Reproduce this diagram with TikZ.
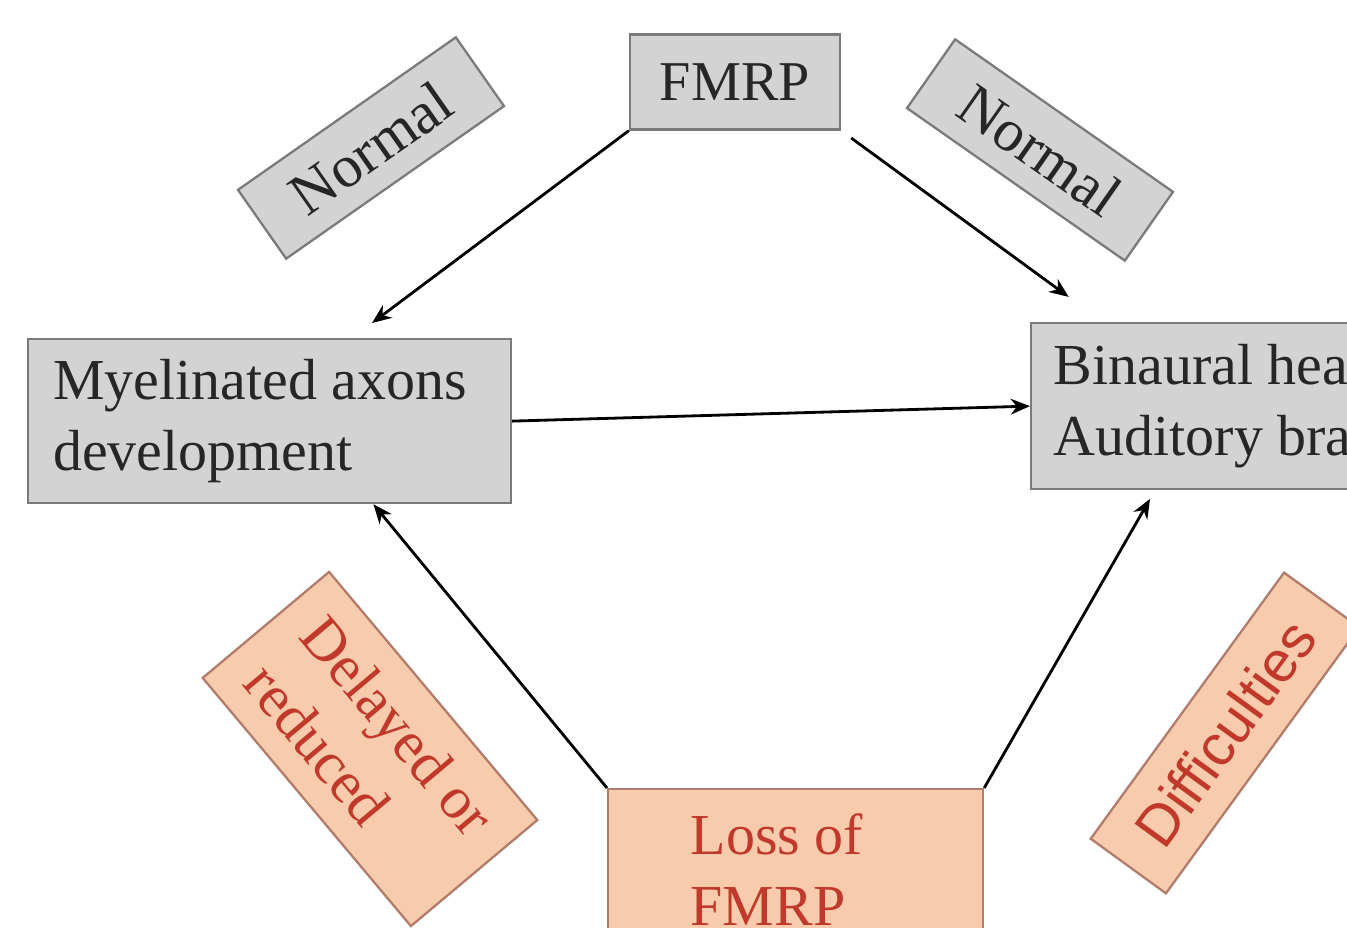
\documentclass[tikz,border=0pt]{standalone}
\usepackage{fontspec}
\setmainfont{Liberation Serif}
\setsansfont{Liberation Sans}
\usetikzlibrary{calc, arrows.meta}

\definecolor{boxgray}{HTML}{D3D3D3}
\definecolor{edgegray}{HTML}{7A7A7A}
\definecolor{peach}{HTML}{F8CBAD}
\definecolor{peachedge}{HTML}{B07C6C}
\definecolor{lossred}{HTML}{C0392B}

\begin{document}
\begin{tikzpicture}[x=0.02cm, y=-0.02cm,
    graybox/.style={draw=edgegray, line width=1.3pt, fill=boxgray, text=black!85},
    peachbox/.style={draw=peachedge, line width=1.3pt, fill=peach, text=lossred},
    boxtext/.style={font=\fontsize{33}{40}\selectfont},
    tagtext/.style={font=\fontsize{34}{42}\selectfont},
    link/.style={line width=1.6pt, -{Stealth[length=11pt, width=9pt]}}]

  % --- Cadre (image coupée à droite et en bas) ---
  \clip (0,0) rectangle (1347,928);

  % --- Boîtes principales ---
  \node[graybox, font=\fontsize{32}{40}\selectfont,
        minimum width=4.2cm, minimum height=1.9cm] (fmrp) at (735,82) {FMRP};

  \node[graybox, boxtext, anchor=north west, text width=8.66cm, align=flush left,
        inner xsep=0.5cm, minimum height=3.28cm] (myel) at (27,338)
    {Myelinated axons\\development};

  \node[graybox, boxtext, anchor=north west, align=flush left,
        inner xsep=0.45cm, minimum height=3.32cm] (bin) at (1030,322)
    {Binaural hearing\\Auditory brainstem};

  \node[peachbox, boxtext, anchor=north west, text width=4.2cm, align=flush left,
        inner xsep=1.65cm, inner ysep=0.5cm] (loss) at (607,788)
    {Loss of\\FMRP};

  % --- Étiquettes inclinées ---
  \node[graybox, tagtext, rotate=35,
        minimum width=5.32cm, minimum height=1.68cm] (normL) at (371,148) {Normal};
  \node[graybox, tagtext, rotate=-35,
        minimum width=5.32cm, minimum height=1.68cm] (normR) at (1040,150) {Normal};
  \node[peachbox, tagtext, rotate=-50, align=flush left,
        minimum width=6.48cm, minimum height=3.3cm] (delay) at (370,749)
    {Delayed or\\reduced};
  \node[peachbox, font=\sffamily\fontsize{33}{42}\selectfont, rotate=54,
        minimum width=6.58cm, minimum height=1.86cm] (diff) at (1225,733) {Difficulties};

  % --- Flèches ---
  \draw[link, shorten >=0.5cm] (fmrp.south west)
    -- ($(myel.north west)!0.67!(myel.north east)$);
  \draw[link, shorten <=0.25cm, shorten >=0.85cm] (fmrp.south east)
    -- ($(bin.north west)+(73,0)$);
  \draw[link] (myel.east) -- (bin.west);
  \draw[link] (loss.north west)
    -- ($(myel.south west)!0.714!(myel.south east)$);
  \draw[link, shorten >=0.2cm] (loss.north east)
    -- ($(bin.south west)+(125,0)$);

\end{tikzpicture}
\end{document}
